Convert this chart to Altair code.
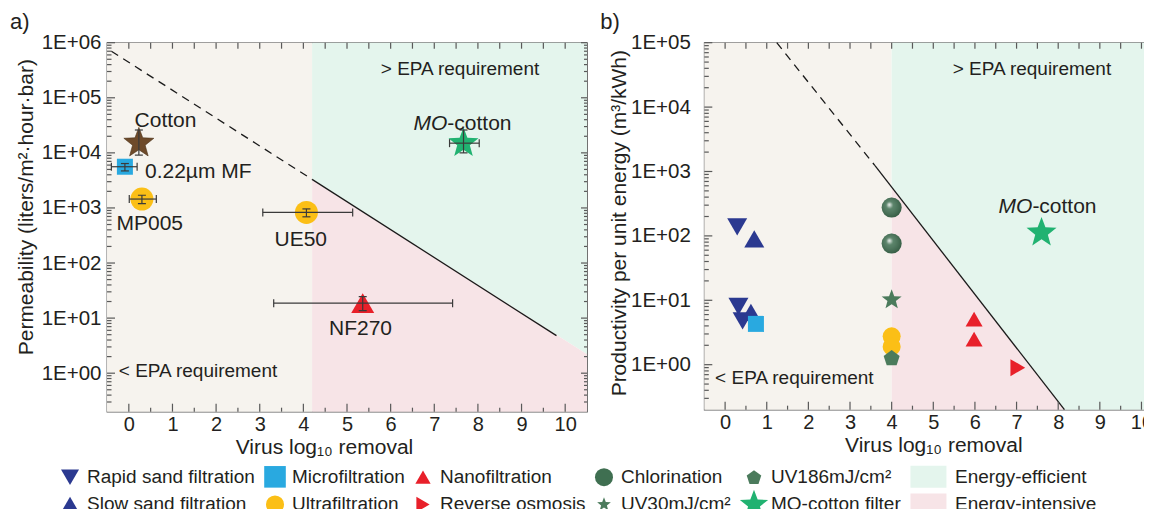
import math
import altair as alt
import pandas as pd

FONT = "Liberation Sans"
INK = "#231f20"
FRAME = "#595959"
BAR = "#3a3a3a"
BEIGE = "#f6f3ee"
GREEN_BG = "#e4f5ed"
PINK_BG = "#f7e4e7"

# ---------------- legend categories ----------------
methods = ["Rapid sand filtration", "Microfiltration", "Nanofiltration", "Chlorination",
           "UV186mJ/cm²", "Energy-efficient",
           "Slow sand filtration", "Ultrafiltration", "Reverse osmosis", "UV30mJ/cm²",
           "MO-cotton filter", "Energy-intensive"]
method_colors = ["#2b3990", "#29a9e0", "#e8202a", "#3f6f51", "#4b7b5c", GREEN_BG,
                 "#2b3990", "#fbbf16", "#e8202a", "#4b7b5c", "#21b271", PINK_BG]

# ---------------- panel a data ----------------
a_label = ["Cotton", "0.22µm MF", "MP005", "UE50", "NF270", "MO-cotton"]
a_method = ["Cotton", "Microfiltration", "Ultrafiltration", "Ultrafiltration",
            "Nanofiltration", "MO-cotton filter"]
a_x = [0.23, -0.09, 0.30, 4.07, 5.36, 7.67]
a_y = [1.5e4, 5.6e3, 1.45e3, 830, 18.7, 1.5e4]
a_xlo = [None, -0.40, 0.01, 3.07, 3.32, 7.35]
a_xhi = [None, 0.19, 0.63, 5.13, 7.42, 8.03]
a_ylo = [9.1e3, 4.7e3, 1.2e3, 690, 13.7, 1.0e4]
a_yhi = [2.6e4, 6.4e3, 1.7e3, 960, 24.5, 2.6e4]
a_lab_x = [0.84, 0.37, 0.48, 3.94, 5.31, 7.30]
a_lab_y = [2.95e4, 3.47e3, 398, 200, 5.0, 2.57e4]
a_lab_kind = ["center", "left", "center", "center", "center", "split"]

a_note = ["> EPA requirement", "< EPA requirement"]
a_note_x = [7.59, -0.23]
a_note_y = [2.63e5, 0.836]
a_note_kind = ["center", "left"]

a_epa_x = 4.2
a_dash_x = [-0.4, 4.2]
a_dash_y = [7.0e5, 3.3e3]
a_solid_x = [4.2, 9.8]
a_solid_y = [3.3e3, 4.8]
a_edge_x = [4.2, 10.5]
a_edge_y = [3.3e3, 2.2]

# ---------------- panel b data ----------------
b_method = ["Rapid sand filtration", "Rapid sand filtration", "Rapid sand filtration",
            "Slow sand filtration", "Slow sand filtration", "Microfiltration",
            "Chlorination", "Chlorination", "UV30mJ/cm²", "Ultrafiltration",
            "Ultrafiltration", "UV186mJ/cm²", "Nanofiltration", "Nanofiltration",
            "Reverse osmosis", "MO-cotton filter"]
b_x = [0.29, 0.32, 0.42, 0.70, 0.62, 0.74, 4.0, 4.0, 4.0, 4.0, 4.0, 4.0, 5.98, 5.98, 7.03, 7.6]
b_y = [138, 8.0, 4.8, 90, 6.5, 4.3, 275, 76, 10.2, 2.76, 1.9, 1.28, 5.1, 2.5, 0.9, 112]

b_note = ["> EPA requirement", "< EPA requirement"]
b_note_x = [7.37, -0.24]
b_note_y = [3.16e4, 0.51]
b_note_kind = ["center", "left"]
b_mo_x = [7.38]
b_mo_y = [230]

b_epa_x = 4.0
b_dash_x = [1.24, 3.6]
b_dash_y = [1.0e5, 1.23e3]
b_solid_x = [3.6, 8.15]
b_solid_y = [1.23e3, 0.2]
b_edge_x = [4.0, 8.15, 10.5]
b_edge_y = [572, 0.2, 0.2]

A_X = [-0.5, 10.5]
A_Y = [0.2, 1e6]
B_X = [-0.5, 10.5]
B_Y = [0.2, 1e5]
A_W, A_H = 480, 369
B_W, B_H = 458, 367


# ---------------- symbol paths ----------------
def star(e, inner=0.42, dx=0.0):
    pts = []
    for i in range(10):
        a = math.radians(-90 + 36 * i)
        r = e if i % 2 == 0 else e * inner
        pts.append(f"{r * math.cos(a) + dx:.3f},{r * math.sin(a):.3f}")
    return "M" + "L".join(pts) + "Z"


def pentagon(e):
    pts = []
    for i in range(5):
        a = math.radians(-90 + 72 * i)
        pts.append(f"{e * math.cos(a):.3f},{e * math.sin(a) + 0.09 * e:.3f}")
    return "M" + "L".join(pts) + "Z"


def tri_up(e):
    h = 0.866 * e
    return f"M0,{-h:.3f}L{e:.3f},{h:.3f}L{-e:.3f},{h:.3f}Z"


def tri_right(e):
    h = 0.866 * e
    return f"M{-h:.3f},{-e:.3f}L{h:.3f},0L{-h:.3f},{e:.3f}Z"


def square(e):
    return f"M{-e},{-e}L{e},{-e}L{e},{e}L{-e},{e}Z"


BOX = "M-3.06,-1.22L0.94,-1.22L0.94,1.22L-3.06,1.22Z"

method_shapes = ["triangle-down", square(1.2), tri_up(0.85), "circle", pentagon(0.85), BOX,
                 "triangle-up", "circle", tri_right(0.85), star(0.8), star(1.65), BOX]

color_scale = alt.Scale(domain=methods, range=method_colors)
shape_scale = alt.Scale(domain=methods, range=method_shapes)

NBSP = "\u00a0" * 8
legend = alt.Legend(
    title=None, orient="none", legendX=-46.5, legendY=424.3, direction="horizontal",
    columns=6, symbolSize=324, symbolStrokeWidth=0, symbolOpacity=1,
    labelFontSize=19, labelFont=FONT, labelColor=INK, labelOffset=7.5,
    columnPadding=8, rowPadding=1, labelLimit=400, gridAlign="each", padding=0,
    labelExpr="datum.label == 'MO-cotton filter' ? 'MO-cotton filter" + NBSP + "' : datum.label",
)

YLABEL = ("'1E' + (datum.value < 1 ? '-' : '+') + "
          "(abs(round(log(datum.value)/LN10)) < 10 ? '0' : '') + abs(round(log(datum.value)/LN10))")


def decades(lo, hi):
    return [10.0 ** k for k in range(lo, hi + 1)]


def minor_decades(lo_val, hi_val, lo, hi):
    out = []
    for k in range(lo, hi + 1):
        for m in range(2, 10):
            v = m * 10.0 ** k
            if lo_val < v < hi_val:
                out.append(v)
    return out


def build_panel(cfg):
    xs = alt.Scale(domain=cfg["xdom"], nice=False, zero=False)
    ys = alt.Scale(type="log", domain=cfg["ydom"], nice=False)
    W, H = cfg["W"], cfg["H"]
    xaxis_kw = dict(values=list(range(11)), title="Virus log₁₀ removal", ticks=False, domain=False,
                    grid=False, labelFontSize=20, labelFont=FONT, labelColor=INK, labelPadding=3,
                    labelFlush=False, titleFont=FONT, titleFontSize=21, titleFontWeight="normal",
                    titleColor=INK, titleY=41.5, titleBaseline="alphabetic")
    if cfg.get("xtitleX") is not None:
        xaxis_kw["titleX"] = cfg["xtitleX"]
    xaxis = alt.Axis(**xaxis_kw)
    yaxis = alt.Axis(values=cfg["ymajor"], labelExpr=YLABEL, title=cfg["ytitle"], ticks=False,
                     domain=False, grid=False, labelFontSize=20.5, labelFont=FONT, labelColor=INK,
                     labelPadding=cfg["ylabpad"], labelFlush=False, titleFont=FONT, titleFontSize=21,
                     titleFontWeight="normal", titleColor=INK, titleX=cfg["ytitleX"],
                     titleY=cfg["ytitleY"], titleBaseline="middle", titleAngle=270)

    def X(f):
        return alt.X(f, scale=xs, axis=xaxis)

    def Y(f):
        return alt.Y(f, scale=ys, axis=yaxis)

    layers = []
    # shaded regions
    bg = pd.DataFrame({"x": [cfg["xdom"][0]], "x2": [cfg["epa_x"]],
                       "y": [cfg["ydom"][0]], "y2": [cfg["ydom"][1]]})
    layers.append(alt.Chart(bg).mark_rect(color=BEIGE).encode(x=X("x:Q"), x2="x2:Q", y=Y("y:Q"), y2="y2:Q"))
    ex, ey = cfg["edge_x"], cfg["edge_y"]
    green = pd.DataFrame({"x": ex, "y": [cfg["ydom"][1]] * len(ex), "y2": ey})
    pink = pd.DataFrame({"x": ex, "y": ey, "y2": [cfg["ydom"][0]] * len(ex)})
    layers.append(alt.Chart(green).mark_area(color=GREEN_BG, opacity=1).encode(x=X("x:Q"), y=Y("y:Q"), y2="y2:Q"))
    layers.append(alt.Chart(pink).mark_area(color=PINK_BG, opacity=1).encode(x=X("x:Q"), y=Y("y:Q"), y2="y2:Q"))

    # boundary line
    dash = pd.DataFrame({"x": cfg["dash_x"], "y": cfg["dash_y"]})
    solid = pd.DataFrame({"x": cfg["solid_x"], "y": cfg["solid_y"]})
    layers.append(alt.Chart(dash).mark_line(color="#1a1a1a", strokeWidth=1.3, strokeDash=[8, 6])
                  .encode(x=X("x:Q"), y=Y("y:Q")))
    layers.append(alt.Chart(solid).mark_line(color="#1a1a1a", strokeWidth=1.3)
                  .encode(x=X("x:Q"), y=Y("y:Q")))

    # inward ticks
    def yticks(vals, p0, p1):
        return alt.Chart(pd.DataFrame({"v": vals})).mark_rule(color=FRAME, strokeWidth=1.2).encode(
            y=Y("v:Q"), x=alt.value(p0), x2=alt.value(p1))

    def xticks(vals, p0, p1):
        return alt.Chart(pd.DataFrame({"v": vals})).mark_rule(color=FRAME, strokeWidth=1.2).encode(
            x=X("v:Q"), y=alt.value(p0), y2=alt.value(p1))

    ymaj, ymin_ = cfg["ymajor"], cfg["yminor"]
    layers.append(yticks(ymaj, 0, 8))
    layers.append(yticks(ymin_, 0, 4.5))
    layers.append(yticks(ymaj, W - 6, W))
    layers.append(yticks(ymin_, W - 3, W))
    xmaj = list(range(11))
    xmin_ = [k + 0.5 for k in range(10)]
    layers.append(xticks(xmaj, H - 8, H))
    layers.append(xticks(xmin_, H - 4, H))
    layers.append(xticks(xmaj + xmin_, 0, 6))

    for lay in cfg["marks"](X, Y):
        layers.append(lay)

    # annotation texts
    notes = pd.DataFrame({"t": cfg["note"], "x": cfg["note_x"], "y": cfg["note_y"], "k": cfg["note_kind"]})
    for k in ["center", "left"]:
        layers.append(alt.Chart(notes).transform_filter(alt.datum.k == k)
                      .mark_text(align=k, baseline="alphabetic", fontSize=19, font=FONT, color=INK)
                      .encode(x=X("x:Q"), y=Y("y:Q"), text="t:N"))
    tag = pd.DataFrame({"t": [cfg["tag"]]})
    layers.append(alt.Chart(tag).mark_text(align="left", baseline="alphabetic", fontSize=22, font=FONT, color=INK)
                  .encode(text="t:N", x=alt.value(cfg["tag_x"]), y=alt.value(-14)))
    return alt.layer(*layers).properties(width=W, height=H)


def method_layer(data, m, size, X, Y):
    return alt.Chart(data).transform_filter(alt.datum.method == m).mark_point(
        filled=True, opacity=1, size=size, strokeWidth=0).encode(
        x=X("x:Q"), y=Y("y:Q"),
        color=alt.Color("method:N", scale=color_scale, legend=legend),
        shape=alt.Shape("method:N", scale=shape_scale, legend=legend))


def label_layers(df, X, Y, fsize=21):
    out = []
    for k in ["center", "left"]:
        out.append(alt.Chart(df).transform_filter(alt.datum.kind == k)
                   .mark_text(align=k, baseline="alphabetic", fontSize=fsize, font=FONT, color=INK)
                   .encode(x=X("lx:Q"), y=Y("ly:Q"), text="label:N"))
    out.append(alt.Chart(df).transform_filter(alt.datum.kind == "split")
               .mark_text(align="right", baseline="alphabetic", fontSize=fsize, font=FONT, color=INK,
                          fontStyle="italic", text="MO")
               .encode(x=X("lx:Q"), y=Y("ly:Q")))
    out.append(alt.Chart(df).transform_filter(alt.datum.kind == "split")
               .mark_text(align="left", baseline="alphabetic", fontSize=fsize, font=FONT, color=INK,
                          text="-cotton")
               .encode(x=X("lx:Q"), y=Y("ly:Q")))
    return out


pa = pd.DataFrame({"label": a_label, "method": a_method, "x": a_x, "y": a_y,
                   "xlo": a_xlo, "xhi": a_xhi, "ylo": a_ylo, "yhi": a_yhi,
                   "lx": a_lab_x, "ly": a_lab_y, "kind": a_lab_kind})
pb = pd.DataFrame({"method": b_method, "x": b_x, "y": b_y})
pb_lab = pd.DataFrame({"label": ["MO-cotton"], "lx": b_mo_x, "ly": b_mo_y, "kind": ["split"]})


def marks_a(X, Y):
    out = []
    cot = pa[pa["method"] == "Cotton"]
    out.append(alt.Chart(cot).mark_point(filled=True, opacity=1, size=994, shape=star(1.0),
                                         fill="#6e4a2a", stroke="#4a3018", strokeWidth=0.6)
               .encode(x=X("x:Q"), y=Y("y:Q")))
    for m, s in [("Microfiltration", 178), ("Ultrafiltration", 529),
                 ("Nanofiltration", 732), ("MO-cotton filter", 366)]:
        out.append(method_layer(pa, m, s, X, Y))
    hb = pa.dropna(subset=["xlo"])
    out.append(alt.Chart(hb).mark_rule(color=BAR, strokeWidth=1.2)
               .encode(x=X("xlo:Q"), x2="xhi:Q", y=Y("y:Q")))
    out.append(alt.Chart(hb).transform_fold(["xlo", "xhi"], as_=["end", "xe"])
               .mark_tick(orient="vertical", size=8, thickness=1.2, color=BAR, opacity=1)
               .encode(x=X("xe:Q"), y=Y("y:Q")))
    out.append(alt.Chart(pa).mark_rule(color=BAR, strokeWidth=1.2)
               .encode(x=X("x:Q"), y=Y("ylo:Q"), y2="yhi:Q"))
    out.append(alt.Chart(pa).transform_fold(["ylo", "yhi"], as_=["end", "ye"])
               .mark_tick(orient="horizontal", size=8, thickness=1.2, color=BAR, opacity=1)
               .encode(x=X("x:Q"), y=Y("ye:Q")))
    out.extend(label_layers(pa, X, Y))
    return out


def marks_b(X, Y):
    out = []
    order = [("Rapid sand filtration", 400), ("Slow sand filtration", 400), ("Microfiltration", 178),
             ("Chlorination", 400), ("UV30mJ/cm²", 690), ("Ultrafiltration", 324),
             ("UV186mJ/cm²", 392), ("Nanofiltration", 400), ("Reverse osmosis", 400),
             ("MO-cotton filter", 366)]
    for m, s in order:
        out.append(method_layer(pb, m, s, X, Y))
        if m == "Chlorination":
            shine = {"gradient": "radial", "x1": 0.38, "y1": 0.35, "r1": 0, "x2": 0.45, "y2": 0.45, "r2": 0.6,
                     "stops": [{"offset": 0, "color": "rgba(255,255,255,0.95)"},
                               {"offset": 0.3, "color": "rgba(255,255,255,0.15)"},
                               {"offset": 1, "color": "rgba(0,0,0,0.2)"}]}
            out.append(alt.Chart(pb).transform_filter(alt.datum.method == m)
                       .mark_point(filled=True, opacity=1, size=400, shape="circle", fill=shine, strokeWidth=0)
                       .encode(x=X("x:Q"), y=Y("y:Q")))
    out.extend(label_layers(pb_lab, X, Y))
    return out


cfg_a = dict(xdom=A_X, ydom=A_Y, W=A_W, H=A_H, epa_x=a_epa_x, edge_x=a_edge_x, edge_y=a_edge_y,
             dash_x=a_dash_x, dash_y=a_dash_y, solid_x=a_solid_x, solid_y=a_solid_y,
             ymajor=decades(0, 6), yminor=minor_decades(0.2, 1e6, -1, 5),
             ytitle="Permeability (liters/m²·hour·bar)", ylabpad=6, ytitleX=-81, ytitleY=164,
             xtitleX=217, note=a_note, note_x=a_note_x, note_y=a_note_y, note_kind=a_note_kind,
             tag="a)", tag_x=-97, marks=marks_a)
cfg_b = dict(xdom=B_X, ydom=B_Y, W=B_W, H=B_H, epa_x=b_epa_x, edge_x=b_edge_x, edge_y=b_edge_y,
             dash_x=b_dash_x, dash_y=b_dash_y, solid_x=b_solid_x, solid_y=b_solid_y,
             ymajor=decades(0, 5), yminor=minor_decades(0.2, 1e5, -1, 4),
             ytitle="Productivity per unit energy (m³/kWh)", ylabpad=14, ytitleX=-85, ytitleY=180,
             xtitleX=None, note=b_note, note_x=b_note_x, note_y=b_note_y, note_kind=b_note_kind,
             tag="b)", tag_x=-104, marks=marks_b)

panel_a = build_panel(cfg_a)
panel_b = build_panel(cfg_b)

# fixed-size page: the figure is cropped at the right and bottom edges like the reference
chart = alt.hconcat(panel_a, panel_b, spacing=117.3, bounds="flush").resolve_scale(
    color="shared", shape="shared").resolve_legend(color="shared", shape="shared").properties(
    autosize=alt.AutoSizeParams(type="none"),
    padding={"left": 99, "top": 34.7, "right": 1037, "bottom": 466}).configure_view(
    stroke=FRAME, strokeWidth=1.3)

chart.save("out.html", embed_options={"renderer": "svg", "actions": False})
